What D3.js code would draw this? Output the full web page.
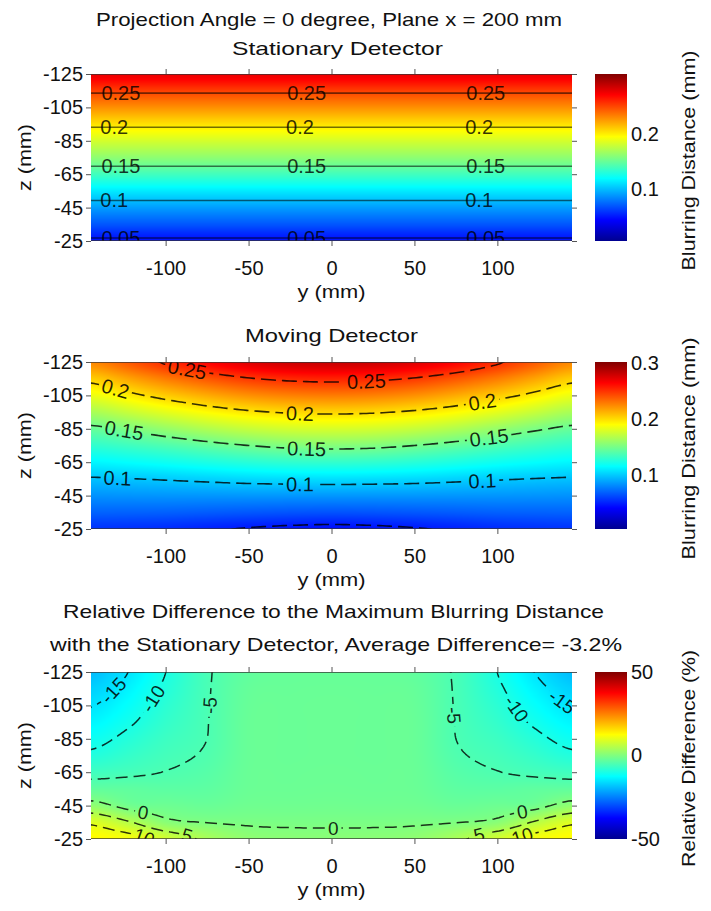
<!DOCTYPE html>
<html>
<head>
<meta charset="utf-8">
<script src="https://cdn.jsdelivr.net/npm/d3@7/dist/d3.min.js"></script>
<style>
  html, body { margin:0; padding:0; background:#ffffff; }
  svg { display:block; }
  text { font-family: "Liberation Sans", Arial, Helvetica, sans-serif; fill:#111; }
</style>
</head>
<body>
<svg id="fig" width="711" height="911" viewBox="0 0 711 911"></svg>
<script>
// ====================== DATA ======================
const yGrid = [-145, -120, -100, -75, -50, -25, 0, 25, 50, 75, 100, 120, 145];
const zGrid = [-125, -115, -105, -95, -85, -75, -65, -55, -45, -35, -25];
const yTicks = [-100, -50, 0, 50, 100];
const zTicks = [-125, -105, -85, -65, -45, -25];

// Stationary detector: blurring distance (mm) along z (same for every y)
const stationaryProfile = [0.2780, 0.2535, 0.2290, 0.2043, 0.1826, 0.1617, 0.1389, 0.1136, 0.0902, 0.0688, 0.0474];

// Moving detector: blurring distance (mm); rows = zGrid, columns = yGrid
const movingRows = [
  [0.2251,0.2402,0.2523,0.2649,0.2744,0.2797,0.2810,0.2797,0.2744,0.2649,0.2523,0.2402,0.2251],
  [0.2052,0.2185,0.2291,0.2401,0.2487,0.2536,0.2552,0.2536,0.2487,0.2401,0.2291,0.2185,0.2052],
  [0.1853,0.1967,0.2058,0.2153,0.2231,0.2276,0.2291,0.2276,0.2231,0.2153,0.2058,0.1967,0.1853],
  [0.1653,0.1750,0.1828,0.1911,0.1976,0.2016,0.2029,0.2016,0.1976,0.1911,0.1828,0.1750,0.1653],
  [0.1463,0.1533,0.1599,0.1676,0.1738,0.1776,0.1788,0.1776,0.1738,0.1676,0.1599,0.1533,0.1463],
  [0.1303,0.1350,0.1392,0.1448,0.1500,0.1538,0.1550,0.1538,0.1500,0.1448,0.1392,0.1350,0.1303],
  [0.1143,0.1174,0.1203,0.1242,0.1278,0.1303,0.1312,0.1303,0.1278,0.1242,0.1203,0.1174,0.1143],
  [0.0985,0.0998,0.1013,0.1035,0.1056,0.1068,0.1074,0.1068,0.1056,0.1035,0.1013,0.0998,0.0985],
  [0.0846,0.0852,0.0856,0.0858,0.0861,0.0861,0.0861,0.0861,0.0861,0.0858,0.0856,0.0852,0.0846],
  [0.0708,0.0705,0.0701,0.0688,0.0676,0.0666,0.0661,0.0666,0.0676,0.0688,0.0701,0.0705,0.0708],
  [0.0569,0.0559,0.0546,0.0517,0.0491,0.0471,0.0460,0.0471,0.0491,0.0517,0.0546,0.0559,0.0569]
];

// Relative difference (%); rows = zGrid, columns = yGrid
const diffRows = [
  [-19.0,-14.5,-10.0,-5.4,-3.0,-2.5,-2.4,-2.5,-3.0,-5.4,-10.0,-14.5,-19.0],
  [-17.1,-13.1,-9.2,-5.3,-2.6,-2.3,-2.2,-2.3,-2.6,-5.3,-9.2,-13.1,-17.1],
  [-15.2,-11.7,-8.3,-5.2,-2.4,-2.2,-2.1,-2.2,-2.4,-5.2,-8.3,-11.7,-15.2],
  [-13.3,-10.3,-7.5,-5.1,-2.3,-2.2,-2.1,-2.2,-2.3,-5.1,-7.5,-10.3,-13.3],
  [-11.3,-8.7,-6.6,-5.0,-2.3,-2.2,-2.1,-2.2,-2.3,-5.0,-6.6,-8.7,-11.3],
  [-9.2,-7.2,-5.8,-4.6,-2.3,-2.2,-2.1,-2.2,-2.3,-4.6,-5.8,-7.2,-9.2],
  [-6.3,-5.6,-4.9,-4.0,-2.2,-2.1,-2.0,-2.1,-2.2,-4.0,-4.9,-5.6,-6.3],
  [-3.0,-3.2,-3.5,-3.3,-2.1,-2.0,-1.9,-2.0,-2.1,-3.3,-3.5,-3.2,-3.0],
  [1.6,-1.5,-1.8,-2.2,-1.6,-1.6,-1.5,-1.6,-1.6,-2.2,-1.8,-1.5,1.6],
  [9.2,5.0,1.0,-0.1,-0.4,-0.5,-0.5,-0.5,-0.4,-0.1,1.0,5.0,9.2],
  [13.0,11.5,8.0,4.0,1.5,1.0,0.9,1.0,1.5,4.0,8.0,11.5,13.0]
];

const blurLevels = [0.05, 0.10, 0.15, 0.20, 0.25];
const diffLevels = [-15, -10, -5, 0, 5, 10];
const stationaryCbTicks = [0.1, 0.2];
const movingCbTicks = [0.1, 0.2, 0.3];
const diffCbTicks = [-50, 0, 50];
const stationaryClim = [0.005, 0.31];
const movingClim = [0.005, 0.302];
const diffClim = [-50, 50];

// contour label anchors: [level, y (mm), z (mm)]
const stationaryLabels = [
  [0.25,-127,-114],[0.25,-14,-114],[0.25,94,-114],
  [0.2,-131,-93],[0.2,-18,-93],[0.2,90,-93],
  [0.15,-127,-69],[0.15,-14,-69],[0.15,94,-69],
  [0.1,-131,-50],[0.1,90,-50],
  [0.05,-127,-26],[0.05,-14,-26],[0.05,94,-26]
];
const movingLabels = [
  [0.25,-88,-117],[0.25,21,-113],
  [0.2,-130,-108],[0.2,-19,-93],[0.2,91,-101],
  [0.15,-126,-84],[0.15,-16,-72],[0.15,94,-80],
  [0.1,-130,-55],[0.1,-19,-52],[0.1,90,-54]
];
const diffLabels = [
  [-15,-132,-114],[-15,139,-108],
  [-10,-107,-108],[-10,112,-103],
  [-5,-73,-105],[-5,78,-99],
  [0,-114,-38],[0,1,-30],[0,115,-39],
  [5,-87,-27],[5,88,-28],
  [10,-114,-26],[10,114,-27]
];

// ====================== DRAWING ======================
const svg = d3.select("#fig");
const defs = svg.append("defs");
const X0 = 91, X1 = 572, CB0 = 595, CB1 = 627;

const jetStops = [0, 0.125, 0.375, 0.625, 0.875, 1];
const jetColors = ["#00008f", "#0000ff", "#00ffff", "#ffff00", "#ff0000", "#800000"];
const jet = d3.scaleLinear().domain(jetStops).range(jetColors).interpolate(d3.interpolateRgb).clamp(true);
const lut = d3.range(1024).map(k => d3.rgb(jet(k / 1023)));

const gj = defs.append("linearGradient").attr("id", "jetGrad")
  .attr("x1", 0).attr("y1", 1).attr("x2", 0).attr("y2", 0);
jetStops.forEach((s, i) => gj.append("stop").attr("offset", s).attr("stop-color", jetColors[i]));

function catmull(p0, p1, p2, p3, t) {
  const t2 = t * t, t3 = t2 * t;
  return 0.5 * (2 * p1 + (-p0 + p2) * t + (2 * p0 - 5 * p1 + 4 * p2 - p3) * t2 + (-p0 + 3 * p1 - 3 * p2 + p3) * t3);
}
function makeField(rows) {
  const ny = yGrid.length, nz = zGrid.length;
  const ci = k => Math.max(0, Math.min(ny - 1, k));
  const cj = k => Math.max(0, Math.min(nz - 1, k));
  return (y, z) => {
    y = Math.max(yGrid[0], Math.min(yGrid[ny - 1], y));
    z = Math.max(zGrid[0], Math.min(zGrid[nz - 1], z));
    let i = d3.bisectRight(yGrid, y) - 1; i = Math.max(0, Math.min(ny - 2, i));
    let j = d3.bisectRight(zGrid, z) - 1; j = Math.max(0, Math.min(nz - 2, j));
    const tx = (y - yGrid[i]) / (yGrid[i + 1] - yGrid[i]);
    const tz = (z - zGrid[j]) / (zGrid[j + 1] - zGrid[j]);
    const rowAt = k => { const r = rows[cj(k)]; return catmull(r[ci(i - 1)], r[ci(i)], r[ci(i + 1)], r[ci(i + 2)], tx); };
    return catmull(rowAt(j - 1), rowAt(j), rowAt(j + 1), rowAt(j + 2), tz);
  };
}

function isolines(values, nx, nz, level) {
  const res = [];
  const geo = d3.contours().size([nx, nz]).thresholds([level])(values)[0];
  if (!geo) return res;
  const onB = p => p[0] <= 0 || p[0] >= nx || p[1] <= 0 || p[1] >= nz;
  geo.coordinates.forEach(poly => poly.forEach(ring0 => {
    const ring = ring0.slice();
    const f = ring[0], l = ring[ring.length - 1];
    if (f[0] === l[0] && f[1] === l[1]) ring.pop();
    const n = ring.length;
    let start = -1;
    for (let k = 0; k < n; k++) { if (onB(ring[k]) && onB(ring[(k + 1) % n])) { start = (k + 1) % n; break; } }
    if (start < 0) { res.push(ring.concat([ring[0]])); return; }
    let cur = [];
    for (let m = 0; m < n; m++) {
      const a = ring[(start + m) % n], b = ring[(start + m + 1) % n];
      if (onB(a) && onB(b)) { if (cur.length > 1) res.push(cur); cur = []; }
      else { if (!cur.length) cur.push(a); cur.push(b); }
    }
    if (cur.length > 1) res.push(cur);
  }));
  return res;
}

function drawPanel(p) {
  const g = svg.append("g");
  const x = d3.scaleLinear().domain([-145, 145]).range([X0, X1]);
  const z = d3.scaleLinear().domain([-125, -25]).range([p.top, p.bottom]);
  const field = makeField(p.rows);
  const norm = d3.scaleLinear().domain(p.clim).range([0, 1]);
  const cw = X1 - X0, ch = p.bottom - p.top;

  // shaded field
  const cv = document.createElement("canvas"); cv.width = cw; cv.height = ch;
  const ctx = cv.getContext("2d"); const im = ctx.createImageData(cw, ch);
  for (let py = 0; py < ch; py++) {
    const zv = z.invert(p.top + py + 0.5);
    for (let px = 0; px < cw; px++) {
      const yv = x.invert(X0 + px + 0.5);
      const t = Math.max(0, Math.min(1, norm(field(yv, zv))));
      const c = lut[Math.round(t * 1023)], o = (py * cw + px) * 4;
      im.data[o] = c.r; im.data[o + 1] = c.g; im.data[o + 2] = c.b; im.data[o + 3] = 255;
    }
  }
  ctx.putImageData(im, 0, 0);
  g.append("image").attr("x", X0).attr("y", p.top).attr("width", cw).attr("height", ch)
    .attr("preserveAspectRatio", "none").attr("href", cv.toDataURL());

  const clipId = "clip" + p.id;
  defs.append("clipPath").attr("id", clipId).append("rect")
    .attr("x", X0).attr("y", p.top).attr("width", cw).attr("height", ch);

  // contour lines
  const nx = 146, nz = 101, dyS = 290 / (nx - 1), dzS = 100 / (nz - 1);
  const vals = new Float64Array(nx * nz);
  for (let r = 0; r < nz; r++) for (let c = 0; c < nx; c++) vals[r * nx + c] = field(-145 + c * dyS, -125 + r * dzS);
  const toPx = pt => [x(-145 + (pt[0] - 0.5) * dyS), z(-125 + (pt[1] - 0.5) * dzS)];
  const outer = g.append("g").attr("clip-path", `url(#${clipId})`);
  const linesG = outer.append("g");
  const levelLines = new Map();
  p.levels.forEach(lv => {
    const ls = isolines(vals, nx, nz, lv).map(l => l.map(toPx));
    levelLines.set(lv, ls);
    ls.forEach(l => linesG.append("path").attr("d", d3.line()(l))
      .attr("fill", "none").attr("stroke", "#000").attr("stroke-opacity", p.lineOpacity)
      .attr("stroke-width", p.lineWidth).attr("stroke-dasharray", p.dash || null));
  });

  // contour labels
  const labG = g.append("g").attr("clip-path", `url(#${clipId})`);
  let mask = null;
  if (p.gaps) {
    const maskId = "mask" + p.id;
    mask = defs.append("mask").attr("id", maskId).attr("maskUnits", "userSpaceOnUse")
      .attr("x", 0).attr("y", 0).attr("width", 711).attr("height", 911);
    mask.append("rect").attr("x", 0).attr("y", 0).attr("width", 711).attr("height", 911).attr("fill", "white");
    linesG.attr("mask", `url(#${maskId})`);
  }
  p.labels.forEach(([lv, yv, zv]) => {
    const ls = levelLines.get(lv) || [];
    const ax = x(yv), ay = z(zv);
    let best = null, bd = Infinity;
    ls.forEach(l => l.forEach((pt, i) => { const d = (pt[0] - ax) ** 2 + (pt[1] - ay) ** 2; if (d < bd) { bd = d; best = { l, i }; } }));
    if (!best) return;
    const l = best.l, n = l.length;
    const a = l[Math.max(0, best.i - 2)], b = l[Math.min(n - 1, best.i + 2)];
    let ang = Math.atan2(b[1] - a[1], b[0] - a[0]) * 180 / Math.PI;
    if (ang > 90) ang -= 180; if (ang < -90) ang += 180;
    const [px, py] = l[best.i];
    const tx = labG.append("text").attr("transform", `translate(${px},${py}) rotate(${ang})`)
      .attr("text-anchor", "middle").attr("dy", "0.35em").attr("font-size", p.labelSize)
      .style("fill", "#000").style("fill-opacity", p.labelOpacity).text(String(lv));
    if (mask) {
      const w = tx.node().getComputedTextLength();
      mask.append("rect").attr("x", -w / 2 - 3).attr("y", -8).attr("width", w + 6).attr("height", 16)
        .attr("fill", "black").attr("transform", `translate(${px},${py}) rotate(${ang})`);
    }
  });

  // box (top / bottom edges)
  g.append("line").attr("x1", X0).attr("x2", X1).attr("y1", p.top + 0.5).attr("y2", p.top + 0.5)
    .attr("stroke", "#333").attr("stroke-opacity", 0.7).attr("stroke-width", 1.2);
  g.append("line").attr("x1", X0).attr("x2", X1).attr("y1", p.bottom - 0.5).attr("y2", p.bottom - 0.5)
    .attr("stroke", "#333").attr("stroke-opacity", 0.7).attr("stroke-width", 1.2);

  // axes
  const fmt = d => String(d);
  const styleAxis = sel => {
    sel.select(".domain").remove();
    sel.selectAll(".tick line").attr("stroke", "#555");
    sel.selectAll("text").attr("font-size", 20).attr("font-family", null).style("fill", "#111");
  };
  g.append("g").attr("transform", `translate(${X0},0)`)
    .call(d3.axisLeft(z).tickValues(zTicks).tickFormat(fmt).tickSize(5).tickPadding(3)).call(styleAxis);
  g.append("g").attr("transform", `translate(${X1},0)`)
    .call(d3.axisRight(z).tickValues(zTicks).tickFormat("").tickSize(5)).call(styleAxis);
  g.append("g").attr("transform", `translate(0,${p.top})`)
    .call(d3.axisTop(x).tickValues(yTicks).tickFormat("").tickSize(5)).call(styleAxis);
  g.append("g").attr("transform", `translate(0,${p.bottom})`)
    .call(d3.axisBottom(x).tickValues(yTicks).tickFormat(fmt).tickSize(5).tickPadding(15)).call(styleAxis);

  // colorbar
  g.append("rect").attr("x", CB0).attr("y", p.top).attr("width", CB1 - CB0).attr("height", ch)
    .attr("fill", "url(#jetGrad)");
  const cbScale = d3.scaleLinear().domain(p.clim).range([p.bottom, p.top]);
  g.append("g").attr("transform", `translate(${CB1},0)`)
    .call(d3.axisRight(cbScale).tickValues(p.cbTicks).tickFormat(fmt).tickSize(0).tickPadding(4)).call(styleAxis);

  // axis labels
  const mid = (p.top + p.bottom) / 2;
  g.append("text").attr("transform", `translate(24,${mid}) rotate(-90)`).attr("text-anchor", "middle")
    .attr("dy", "0.35em").attr("font-size", 19).attr("textLength", 67).attr("lengthAdjust", "spacingAndGlyphs").text("z (mm)");
  g.append("text").attr("x", (X0 + X1) / 2).attr("y", p.bottom + 50).attr("text-anchor", "middle")
    .attr("dy", "0.35em").attr("font-size", 19).attr("textLength", 68).attr("lengthAdjust", "spacingAndGlyphs").text("y (mm)");
  g.append("text").attr("transform", `translate(688,${mid + 3}) rotate(-90)`).attr("text-anchor", "middle")
    .attr("dy", "0.35em").attr("font-size", 19).attr("textLength", p.cbLabelLen).attr("lengthAdjust", "spacingAndGlyphs").text(p.cbLabel);

  // titles
  p.titles.forEach(t => {
    g.append("text").attr("x", t.x).attr("y", t.y).attr("text-anchor", "middle").attr("font-size", 19)
      .attr("textLength", t.len).attr("lengthAdjust", "spacingAndGlyphs").text(t.text);
  });
}

drawPanel({
  id: 1, top: 74, bottom: 241,
  rows: stationaryProfile.map(v => yGrid.map(() => v)),
  levels: blurLevels, clim: stationaryClim, cbTicks: stationaryCbTicks,
  labels: stationaryLabels, gaps: false, dash: null, lineOpacity: 0.55, lineWidth: 1.6,
  labelSize: 20, labelOpacity: 0.8,
  cbLabel: "Blurring Distance (mm)", cbLabelLen: 220,
  titles: [
    { text: "Projection Angle = 0 degree, Plane x = 200 mm", x: 329, y: 26, len: 466 },
    { text: "Stationary Detector", x: 337.5, y: 55, len: 211 }
  ]
});
drawPanel({
  id: 2, top: 362, bottom: 529,
  rows: movingRows,
  levels: blurLevels, clim: movingClim, cbTicks: movingCbTicks,
  labels: movingLabels, gaps: true, dash: "15,6", lineOpacity: 0.8, lineWidth: 1.6,
  labelSize: 20, labelOpacity: 0.85,
  cbLabel: "Blurring Distance (mm)", cbLabelLen: 222,
  titles: [
    { text: "Moving Detector", x: 331.5, y: 342, len: 173 }
  ]
});
drawPanel({
  id: 3, top: 672, bottom: 839,
  rows: diffRows,
  levels: diffLevels, clim: diffClim, cbTicks: diffCbTicks,
  labels: diffLabels, gaps: true, dash: "12,6", lineOpacity: 0.8, lineWidth: 1.5,
  labelSize: 19, labelOpacity: 0.85,
  cbLabel: "Relative Difference (%)", cbLabelLen: 217,
  titles: [
    { text: "Relative Difference to the Maximum Blurring Distance", x: 333.5, y: 618, len: 541 },
    { text: "with the Stationary Detector, Average Difference= -3.2%", x: 336, y: 651, len: 572 }
  ]
});
</script>
</body>
</html>
